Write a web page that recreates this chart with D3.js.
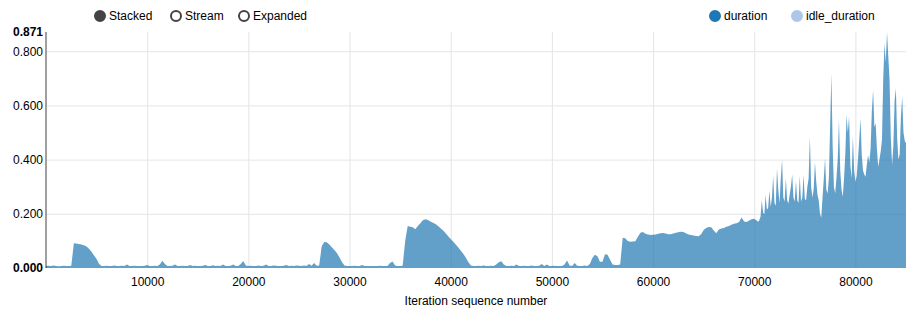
<!DOCTYPE html>
<html>
<head>
<meta charset="utf-8">
<script src="https://cdn.jsdelivr.net/npm/d3@7"></script>
<style>
  body { margin: 0; background: #fff; }
  svg { font-family: "Liberation Sans", Arial, sans-serif; font-size: 12px; }
  .grid line { stroke: #e5e5e5; }
  .grid path { display: none; }
  .tick text { fill: #000; }
</style>
</head>
<body>
<div id="chart"></div>
<script>
// sequence numbers: coarse samples up to 70000, finer samples after
var earlyStep = 250;
var lateStart = 70000, lateStep = 125;

// duration, iterations 0 .. 69750 (every 250)
var durationEarly = [
  0.007, 0.008, 0.007, 0.009, 0.007, 0.006, 0.007, 0.008, 0.007, 0.007,
  0.008, 0.091, 0.090, 0.089, 0.087, 0.084, 0.079, 0.071, 0.060, 0.046,
  0.033, 0.015, 0.007, 0.007, 0.008, 0.007, 0.007, 0.009, 0.007, 0.007,
  0.008, 0.007, 0.013, 0.007, 0.007, 0.008, 0.007, 0.007, 0.007, 0.008,
  0.011, 0.007, 0.007, 0.008, 0.007, 0.013, 0.027, 0.015, 0.007, 0.007,
  0.008, 0.013, 0.007, 0.007, 0.008, 0.007, 0.007, 0.011, 0.007, 0.008,
  0.007, 0.007, 0.008, 0.011, 0.007, 0.007, 0.010, 0.007, 0.008, 0.007,
  0.013, 0.007, 0.007, 0.008, 0.013, 0.007, 0.007, 0.015, 0.026, 0.009,
  0.007, 0.008, 0.007, 0.007, 0.009, 0.007, 0.008, 0.013, 0.007, 0.007,
  0.009, 0.008, 0.007, 0.007, 0.008, 0.011, 0.007, 0.008, 0.007, 0.009,
  0.008, 0.007, 0.009, 0.007, 0.015, 0.008, 0.018, 0.008, 0.009, 0.080,
  0.096, 0.095, 0.087, 0.077, 0.066, 0.055, 0.040, 0.022, 0.009, 0.007,
  0.007, 0.007, 0.008, 0.007, 0.007, 0.011, 0.007, 0.007, 0.007, 0.007,
  0.007, 0.007, 0.008, 0.007, 0.007, 0.007, 0.018, 0.024, 0.009, 0.007,
  0.007, 0.008, 0.100, 0.155, 0.152, 0.150, 0.143, 0.155, 0.165, 0.176,
  0.180, 0.177, 0.172, 0.167, 0.162, 0.155, 0.147, 0.138, 0.128, 0.117,
  0.107, 0.097, 0.087, 0.076, 0.064, 0.052, 0.038, 0.021, 0.009, 0.007,
  0.007, 0.008, 0.007, 0.009, 0.007, 0.007, 0.008, 0.007, 0.013, 0.021,
  0.025, 0.013, 0.007, 0.007, 0.008, 0.007, 0.013, 0.007, 0.007, 0.008,
  0.007, 0.007, 0.009, 0.007, 0.007, 0.008, 0.015, 0.007, 0.013, 0.007,
  0.007, 0.008, 0.007, 0.007, 0.007, 0.013, 0.028, 0.009, 0.007, 0.018,
  0.008, 0.007, 0.007, 0.009, 0.007, 0.015, 0.037, 0.049, 0.043, 0.023,
  0.023, 0.051, 0.049, 0.030, 0.013, 0.011, 0.011, 0.013, 0.112, 0.110,
  0.100, 0.097, 0.098, 0.099, 0.115, 0.130, 0.133, 0.126, 0.124, 0.122,
  0.123, 0.124, 0.126, 0.128, 0.129, 0.127, 0.125, 0.125, 0.127, 0.130,
  0.132, 0.134, 0.133, 0.128, 0.124, 0.122, 0.120, 0.118, 0.117, 0.125,
  0.140, 0.148, 0.151, 0.150, 0.138, 0.128, 0.142, 0.146, 0.148, 0.152,
  0.155, 0.160, 0.163, 0.165, 0.170, 0.186, 0.172, 0.170, 0.175, 0.180
];

// duration, iterations 70000 .. 85000 (every 125)
var durationLate = [
  0.182, 0.178, 0.175, 0.171, 0.176, 0.190, 0.250, 0.205, 0.198, 0.270,
  0.215, 0.222, 0.285, 0.225, 0.260, 0.340, 0.240, 0.230, 0.368, 0.290,
  0.240, 0.330, 0.400, 0.260, 0.245, 0.330, 0.250, 0.238, 0.270, 0.300,
  0.345, 0.260, 0.245, 0.320, 0.250, 0.240, 0.340, 0.245, 0.260, 0.343,
  0.255, 0.250, 0.300, 0.330, 0.485, 0.300, 0.260, 0.290, 0.390, 0.320,
  0.270, 0.250, 0.200, 0.185, 0.260, 0.330, 0.405, 0.290, 0.275, 0.330,
  0.520, 0.718, 0.450, 0.300, 0.275, 0.330, 0.400, 0.546, 0.360, 0.290,
  0.263, 0.330, 0.420, 0.565, 0.500, 0.560, 0.380, 0.330, 0.485, 0.360,
  0.318, 0.340, 0.400, 0.470, 0.553, 0.420, 0.360, 0.345, 0.337, 0.380,
  0.417, 0.390, 0.440, 0.580, 0.657, 0.520, 0.534, 0.440, 0.374, 0.400,
  0.430, 0.472, 0.700, 0.829, 0.760, 0.871, 0.780, 0.694, 0.480, 0.380,
  0.450, 0.620, 0.663, 0.480, 0.400, 0.420, 0.560, 0.632, 0.500, 0.470,
  0.460
];

var xTicks = [10000, 20000, 30000, 40000, 50000, 60000, 70000, 80000];
var yTicks = [0.2, 0.4, 0.6, 0.8];
var modes = ["Stacked", "Stream", "Expanded"];
var seriesNames = ["duration", "idle_duration"];
var seriesColors = ["#1f77b4", "#aec7e8"];

var W = 906, H = 309;
var margin = {top: 32, right: 0, bottom: 41, left: 46},
    width = W - margin.left - margin.right,
    height = H - margin.top - margin.bottom;

var data = durationEarly.map(function(v, i) { return {iter: i * earlyStep, value: v}; })
  .concat(durationLate.map(function(v, i) { return {iter: lateStart + i * lateStep, value: v}; }));

var x = d3.scaleLinear()
  .domain(d3.extent(data, function(d) { return d.iter; }))
  .range([0, width]);
var yMax = d3.max(data, function(d) { return d.value; });
var y = d3.scaleLinear().domain([0, yMax]).range([height, 0]);

var svg = d3.select("#chart").append("svg")
    .attr("width", W)
    .attr("height", H);
var g = svg.append("g")
    .attr("transform", "translate(" + margin.left + "," + margin.top + ")");

// grid lines
g.append("g")
  .attr("class", "grid")
  .attr("transform", "translate(0," + height + ")")
  .call(d3.axisBottom(x).tickValues(xTicks).tickSize(-height).tickFormat(""));
g.append("g")
  .attr("class", "grid")
  .call(d3.axisLeft(y).tickValues(yTicks).tickSize(-width).tickFormat(""));

// stacked area (duration layer)
var area = d3.area()
  .x(function(d) { return x(d.iter); })
  .y0(y(0))
  .y1(function(d) { return y(d.value); });

g.append("path")
  .datum(data)
  .attr("d", area)
  .style("fill", seriesColors[0])
  .style("fill-opacity", 0.7)
  .style("stroke", "none");

// x axis labels
var xAxis = g.append("g")
  .attr("transform", "translate(0," + height + ")")
  .call(d3.axisBottom(x).tickValues(xTicks).tickSize(0).tickPadding(9).tickFormat(d3.format("d")));
xAxis.attr("font-size", null).attr("font-family", null);
xAxis.select(".domain").remove();

g.append("text")
  .attr("x", width / 2)
  .attr("y", height + 37)
  .attr("text-anchor", "middle")
  .style("fill", "#000")
  .text("Iteration sequence number");

// y axis, min and max labels in bold
var fmt = d3.format(".3f");
var yAxis = g.append("g")
  .call(d3.axisLeft(y).tickValues([0].concat(yTicks).concat([yMax])).tickSize(0).tickPadding(3).tickFormat(fmt));
yAxis.attr("font-size", null).attr("font-family", null);
yAxis.select(".domain").remove();
yAxis.selectAll(".tick text")
  .style("font-weight", function(d) { return (d === 0 || d === yMax) ? "bold" : "normal"; });
g.append("line")
  .attr("x1", 0).attr("x2", 0)
  .attr("y1", 0).attr("y2", height)
  .style("stroke", "#000")
  .style("stroke-opacity", 0.75);

// controls legend
var ctrlX = [100, 176, 244];
modes.forEach(function(m, i) {
  svg.append("circle")
    .attr("cx", ctrlX[i]).attr("cy", 16).attr("r", 5)
    .style("stroke", "#444").style("stroke-width", 2)
    .style("fill", i === 0 ? "#444" : "#fff");
  svg.append("text")
    .attr("x", ctrlX[i] + 9).attr("y", 16).attr("dy", ".32em")
    .style("fill", "#000")
    .text(m);
});

// series legend
var legX = [715, 797];
seriesNames.forEach(function(s, i) {
  svg.append("circle")
    .attr("cx", legX[i]).attr("cy", 16).attr("r", 5)
    .style("stroke", seriesColors[i]).style("stroke-width", 2)
    .style("fill", seriesColors[i]);
  svg.append("text")
    .attr("x", legX[i] + 9).attr("y", 16).attr("dy", ".32em")
    .style("fill", "#000")
    .text(s);
});
</script>
</body>
</html>
